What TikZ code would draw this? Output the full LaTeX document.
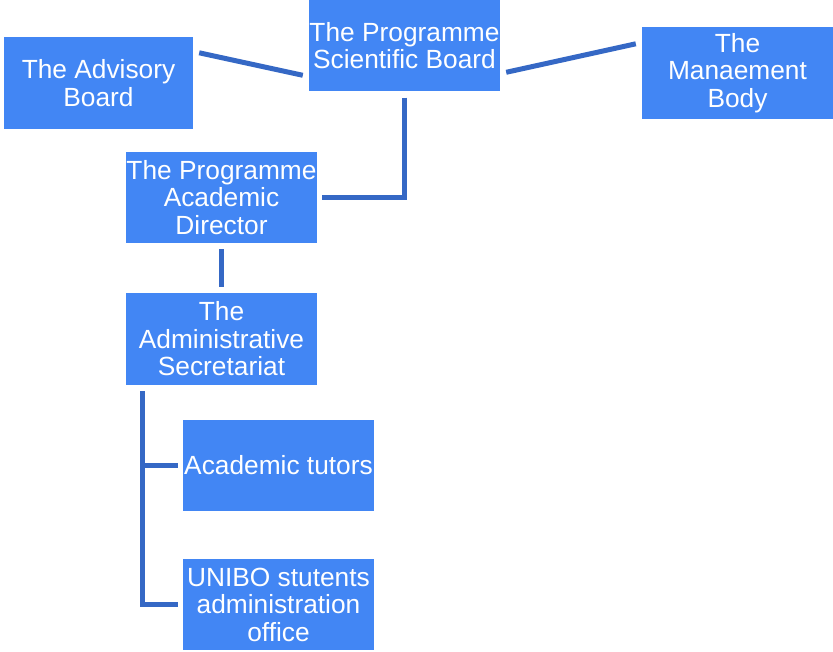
\documentclass[tikz,border=0pt]{standalone}
\usepackage{fontspec}
\setmainfont{Liberation Sans}
\usetikzlibrary{calc}
\definecolor{boxblue}{HTML}{4286F4}
\definecolor{lineblue}{HTML}{3568C5}
\begin{document}
\begin{tikzpicture}[x=1pt,y=-1pt,
  orgbox/.style={fill=boxblue,text=white,inner sep=0pt,align=center,
    font=\fontsize{26.3}{27.5}\selectfont},
  link/.style={draw=lineblue,line width=5pt}]
\useasboundingbox (0,0) rectangle (833,652);
\node[orgbox,minimum width=189pt,minimum height=92pt] (adv) at (98.5,83) {The Advisory\\Board};
\node[orgbox,minimum width=191pt,minimum height=92pt] (sci) at (404.5,45.5) {The Programme\\Scientific Board};
\node[orgbox,minimum width=191pt,minimum height=92pt] (man) at (737.5,73) {The\\Manaement\\Body};
\node[orgbox,minimum width=191pt,minimum height=91pt] (dir) at (221.5,197.5) {The Programme\\Academic\\Director};
\node[orgbox,minimum width=191pt,minimum height=92pt] (sec) at (221.5,339) {The\\Administrative\\Secretariat};
\node[orgbox,minimum width=191pt,minimum height=91pt] (tut) at (278.5,465.5) {Academic tutors};
\node[orgbox,minimum width=191pt,minimum height=91pt] (uni) at (278.5,604.5) {UNIBO stutents\\administration\\office};
\draw[link] ($(adv.north east)+(6,16)$) -- ($(sci.north west)+(-6,76)$);
\draw[link] ($(sci.north east)+(6,73)$) -- ($(man.north west)+(-6,17)$);
\draw[link] ($(sci.south)+(0,6)$) |- ($(dir.east)+(5,0)$);
\draw[link] ($(dir.south)+(0,6)$) -- ($(sec.north)+(0,-6)$);
\coordinate (trunk) at ($(sec.south west)+(17,6)$);
\draw[link] (trunk) |- ($(uni.west)+(-5,0)$);
\draw[link] (trunk |- tut.west) -- ($(tut.west)+(-5,0)$);
\end{tikzpicture}
\end{document}
